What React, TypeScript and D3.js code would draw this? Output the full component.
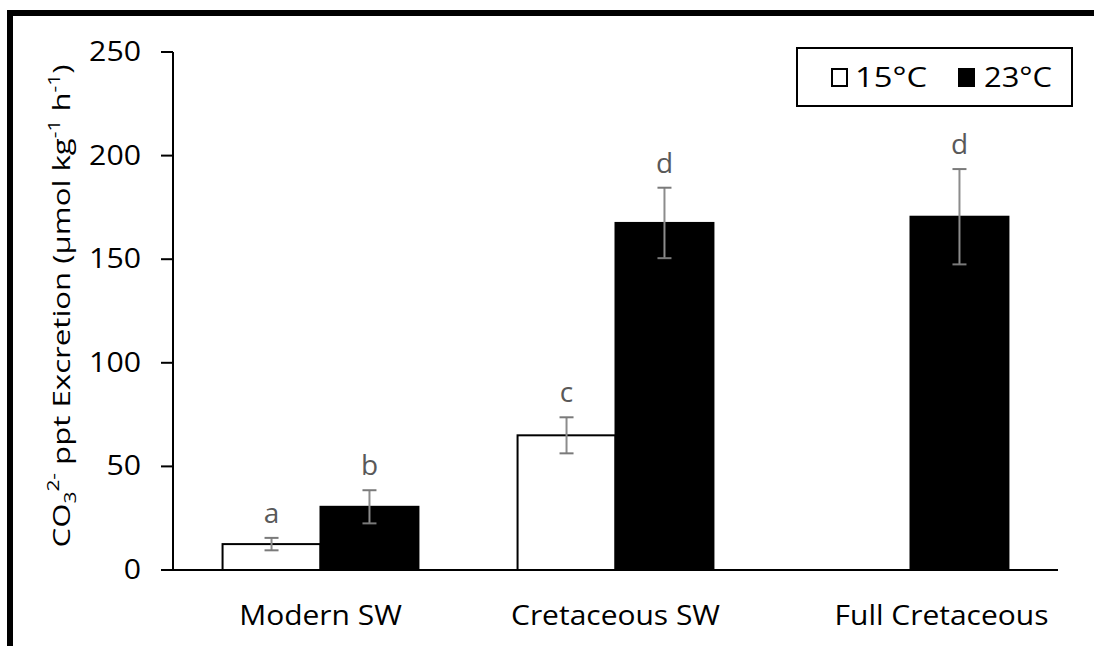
import React from "react";
import * as d3 from "d3";

const categories = ["Modern SW", "Cretaceous SW", "Full Cretaceous"];
const seriesNames = ["15°C", "23°C"];
const values15: (number | null)[] = [12.5, 65, null];
const values23: (number | null)[] = [30.5, 167.5, 170.5];
const err15: (number | null)[] = [3, 8.7, null];
const err23: (number | null)[] = [8, 17, 23];
const letters15: (string | null)[] = ["a", "c", null];
const letters23: (string | null)[] = ["b", "d", "d"];
const yTicks = [0, 50, 100, 150, 200, 250];

const W = 1094;
const H = 646;
const FONT = "'Open Sans', 'DejaVu Sans', sans-serif";
// horizontal nudge of the category labels as placed in the original
const labelNudge = [0, 0, 31];

export default function App() {
  const y = d3.scaleLinear().domain([0, 250]).range([570, 52]);
  const x0 = d3
    .scaleBand<string>()
    .domain(categories)
    .range([173, 1058])
    .paddingInner(0.336)
    .paddingOuter(0.168);
  const x1 = d3
    .scaleBand<string>()
    .domain(seriesNames)
    .range([0, x0.bandwidth()]);

  const series = [
    { name: seriesNames[0], values: values15, errs: err15, letters: letters15, fill: "#ffffff" },
    { name: seriesNames[1], values: values23, errs: err23, letters: letters23, fill: "#000000" },
  ];

  return (
    <svg
      width={W}
      height={H}
      style={{ position: "absolute", left: 0, top: 0, background: "#fff" }}
      fontFamily={FONT}
    >
      <rect x={0} y={0} width={W} height={H} fill="#fff" />
      {/* outer frame (cropped at right and bottom) */}
      <rect x={10} y={13} width={W + 20} height={H + 20} fill="none" stroke="#000" strokeWidth={6} />

      {/* bars */}
      {series.map((s) =>
        categories.map((c, i) => {
          const v = s.values[i];
          if (v == null) return null;
          const bx = (x0(c) as number) + (x1(s.name) as number);
          const bw = x1.bandwidth();
          return (
            <rect
              key={s.name + c}
              x={bx}
              y={y(v)}
              width={bw}
              height={y(0) - y(v)}
              fill={s.fill}
              stroke="#000"
              strokeWidth={2}
            />
          );
        })
      )}

      {/* error bars and letters */}
      {series.map((s) =>
        categories.map((c, i) => {
          const v = s.values[i];
          const e = s.errs[i];
          if (v == null || e == null) return null;
          const cx = (x0(c) as number) + (x1(s.name) as number) + x1.bandwidth() / 2;
          const top = y(v + e);
          const bot = y(v - e);
          return (
            <g key={"e" + s.name + c}>
              <line x1={cx} x2={cx} y1={top} y2={bot} stroke="#8c8c8c" strokeWidth={2} />
              <line x1={cx - 7} x2={cx + 7} y1={top} y2={top} stroke="#7a7a7a" strokeWidth={2} />
              <line x1={cx - 7} x2={cx + 7} y1={bot} y2={bot} stroke="#7a7a7a" strokeWidth={2} />
              {s.letters[i] && (
                <text x={cx} y={top - 15} textAnchor="middle" fontSize={28} fill="#595959">
                  {s.letters[i]}
                </text>
              )}
            </g>
          );
        })
      )}

      {/* y axis */}
      <line x1={173} x2={173} y1={y(250)} y2={y(0)} stroke="#000" strokeWidth={2} />
      {yTicks.map((t) => (
        <g key={t}>
          <line x1={161} x2={173} y1={y(t)} y2={y(t)} stroke="#000" strokeWidth={2} />
          <text
            x={141}
            y={y(t) + 9}
            textAnchor="end"
            fontSize={27}
            fill="#000"
            textLength={String(t).length * 17.3}
            lengthAdjust="spacingAndGlyphs"
          >
            {t}
          </text>
        </g>
      ))}
      {/* x axis */}
      <line x1={173} x2={1058} y1={y(0)} y2={y(0)} stroke="#000" strokeWidth={2} />
      {categories.map((c, i) => (
        <text
          key={c}
          transform={`translate(${(x0(c) as number) + x0.bandwidth() / 2 + labelNudge[i]},625) scale(1.11,1)`}
          textAnchor="middle"
          fontSize={27}
          fill="#000"
        >
          {c}
        </text>
      ))}

      {/* y axis label */}
      <text
        transform="translate(70,306) rotate(-90) scale(1.3,1)"
        textAnchor="middle"
        fontSize={24}
        fill="#000"
      >
        <tspan>CO</tspan>
        <tspan fontSize={16} dy={6}>3</tspan>
        <tspan fontSize={16} dy={-17}>2-</tspan>
        <tspan dy={11}> ppt Excretion (µmol kg</tspan>
        <tspan fontSize={16} dy={-10}>-1</tspan>
        <tspan dy={10}> h</tspan>
        <tspan fontSize={16} dy={-10}>-1</tspan>
        <tspan dy={10}>)</tspan>
      </text>

      {/* legend */}
      <rect x={797} y={48} width={275} height={58} fill="#fff" stroke="#000" strokeWidth={2} />
      <rect x={832} y={69} width={15} height={17} fill="#fff" stroke="#000" strokeWidth={2} />
      <text x={855} y={87} fontSize={27} fill="#000" textLength={72} lengthAdjust="spacingAndGlyphs">
        {seriesNames[0]}
      </text>
      <rect x={958} y={68} width={17} height={19} fill="#000" />
      <text x={984} y={87} fontSize={27} fill="#000" textLength={68} lengthAdjust="spacingAndGlyphs">
        {seriesNames[1]}
      </text>
    </svg>
  );
}
